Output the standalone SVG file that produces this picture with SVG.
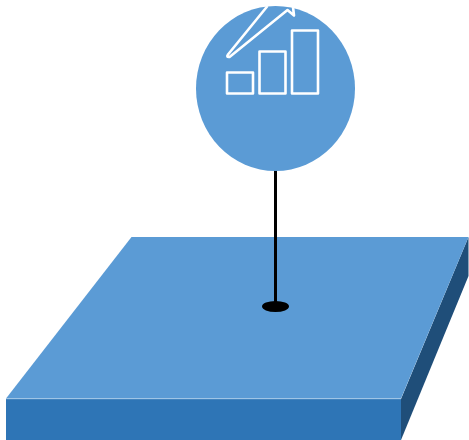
<svg xmlns="http://www.w3.org/2000/svg" width="469" height="440" viewBox="0 0 469 440">
<style>
.icon{fill:none;stroke:#fff;stroke-width:2.6;stroke-linejoin:round}
</style>
<rect width="469" height="440" fill="#fff"/>
<g id="platform">
<polygon points="6,399 401,399 401,440 6,440" fill="#2E75B6"/>
<polygon points="401,399 468.5,237 468.5,276 401,440" fill="#1F4E79"/>
<polygon points="131.500,237 468.500,237 401,398.500 6,398.500" fill="#5B9BD5"/>
<line x1="6" y1="398.700" x2="401" y2="398.700" stroke="#9DC3E6" stroke-width="1"/>
</g>
<g id="connectors">
<line x1="275.500" y1="168" x2="275.500" y2="306" stroke="#000" stroke-width="3"/>
<ellipse cx="275.500" cy="306.500" rx="13.500" ry="5.500" fill="#000"/>
</g>
<g id="chart-node">
<ellipse cx="275.500" cy="88.500" rx="79.500" ry="82.500" fill="#5B9BD5"/>
<rect class="icon" x="227" y="72.500" width="26" height="21"/>
<rect class="icon" x="259.500" y="51.500" width="26" height="42"/>
<rect class="icon" x="292" y="30.500" width="26" height="63"/>
<path class="icon" d="M267.500,6 L228,54.500 Q226,57.500 229.500,57 L287.500,10 L294,15.500 L293,7"/>
</g>
</svg>
